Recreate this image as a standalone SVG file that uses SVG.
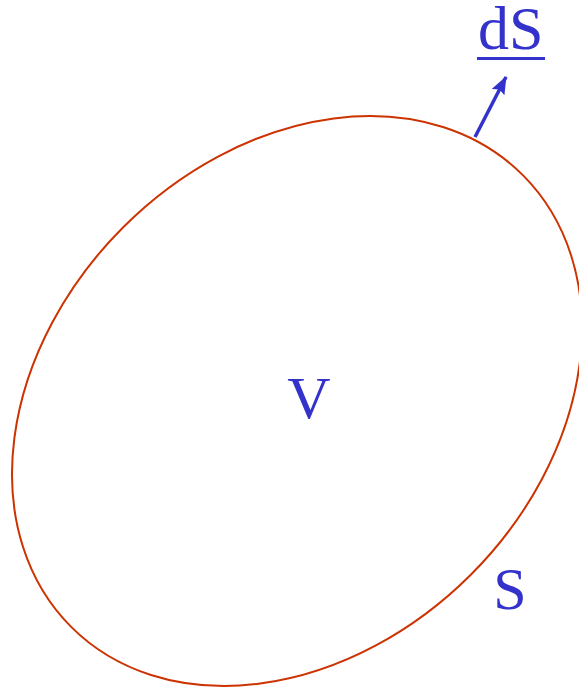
<svg xmlns="http://www.w3.org/2000/svg" width="579" height="688" viewBox="0 0 579 688">
<style>
.lbl{font-family:"Liberation Serif","Times New Roman",serif;font-size:60px;fill:#3333cc}
</style>
<defs>
<marker id="ah" markerWidth="18" markerHeight="14" refX="17" refY="7" orient="auto" markerUnits="userSpaceOnUse">
<path d="M0,0 L18,7 L0,14 L3,7 Z" fill="#3333cc"/>
</marker>
</defs>
<rect width="579" height="688" fill="#ffffff"/>
<g id="surface">
<ellipse cx="297" cy="401" rx="319.4" ry="245.8" transform="rotate(-45 297 401)" fill="none" stroke="#cc3300" stroke-width="2"/>
</g>
<g id="connectors">
<line x1="475" y1="137" x2="506" y2="77" stroke="#3333cc" stroke-width="3.5" marker-end="url(#ah)"/>
</g>
<g id="dS">
<text class="lbl" x="478" y="49" style="font-size:62px">dS</text>
<rect x="477" y="57" width="68" height="3" fill="#3333cc"/>
</g>
<g id="V">
<text class="lbl" x="309" y="418" text-anchor="middle">V</text>
</g>
<g id="S">
<text class="lbl" x="510" y="609" text-anchor="middle">S</text>
</g>
</svg>
